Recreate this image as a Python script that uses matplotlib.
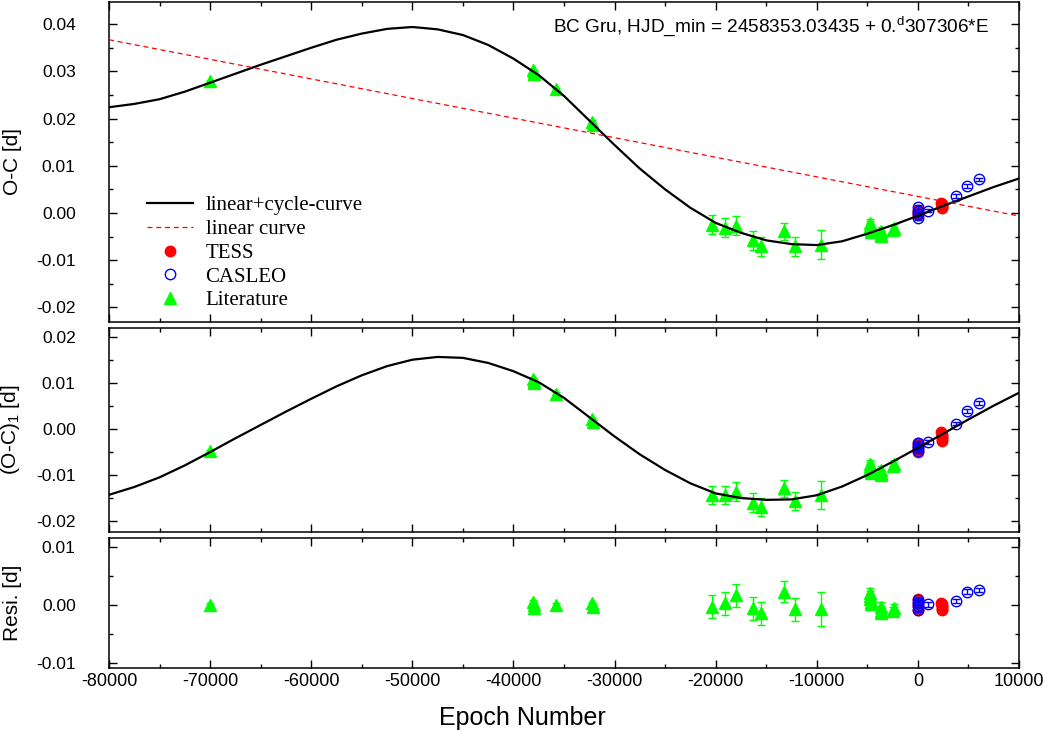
import matplotlib
matplotlib.use('Agg')
import matplotlib.pyplot as plt
from matplotlib.lines import Line2D
from matplotlib.ticker import MultipleLocator, FormatStrFormatter

plt.rcParams['font.family'] = ['Liberation Sans', 'DejaVu Sans']
plt.rcParams['mathtext.fontset'] = 'custom'
plt.rcParams['mathtext.rm'] = 'Liberation Sans'
plt.rcParams['axes.unicode_minus'] = False

# model curves (every 2500 cycles)
curve_epoch = [-80000, -77500, -75000, -72500, -70000, -67500, -65000, -62500, -60000,
               -57500, -55000, -52500, -50000, -47500, -45000, -42500, -40000, -37500,
               -35000, -32500, -30000, -27500, -25000, -22500, -20000, -17500, -15000,
               -12500, -10000, -7500, -5000, -2500, 0, 2500, 5000, 7500, 10000]
# linear + cycle curve (top panel)
curve_oc = [0.0224, 0.0231, 0.0241, 0.0257, 0.0276, 0.0295, 0.0314, 0.0332, 0.0350,
            0.0367, 0.0380, 0.0390, 0.0394, 0.0389, 0.0377, 0.0356, 0.0327, 0.0292,
            0.0248, 0.0196, 0.0144, 0.0094, 0.0050, 0.0011, -0.0021, -0.0042, -0.0058,
            -0.0066, -0.0068, -0.0060, -0.0044, -0.0026, -0.0006, 0.0015, 0.0035,
            0.0055, 0.0073]
# cycle curve alone (middle panel)
curve_oc1 = [-0.0143, -0.0126, -0.0105, -0.0079, -0.0050, -0.0020, 0.0009, 0.0038, 0.0066,
             0.0093, 0.0117, 0.0137, 0.0151, 0.0157, 0.0155, 0.0144, 0.0126, 0.0102,
             0.0068, 0.0026, -0.0016, -0.0055, -0.0089, -0.0118, -0.0140, -0.0150, -0.0154,
             -0.0153, -0.0144, -0.0125, -0.0100, -0.0071, -0.0041, -0.0010, 0.0021,
             0.0051, 0.0079]
# linear ephemeris correction (red dashed)
linear_epoch = [-80000, 10000]
linear_oc = [0.0367, -0.00065]

# Literature minima
lit_epoch = [-70000, -38050, -38000, -37950, -35800, -32250, -32150, -20400, -19080,
             -17990, -16270, -15510, -13200, -12150, -9570, -4780, -4740, -4700, -4660,
             -4620, -3680, -3640, -3600, -2440, -2400]
lit_oc = [0.0279, 0.0303, 0.0298, 0.0294, 0.0262, 0.0193, 0.0186, -0.0025, -0.0031,
          -0.0027, -0.0058, -0.0071, -0.0039, -0.0071, -0.0067, -0.0022, -0.0027, -0.0032,
          -0.0037, -0.0041, -0.0038, -0.0045, -0.0049, -0.0036, -0.0031]
lit_oc1 = [-0.0048, 0.0110, 0.0105, 0.0101, 0.0077, 0.0022, 0.0016, -0.0143, -0.0144,
           -0.0136, -0.0160, -0.0169, -0.0129, -0.0157, -0.0143, -0.0077, -0.0082, -0.0087,
           -0.0092, -0.0096, -0.0088, -0.0095, -0.0099, -0.0081, -0.0076]
lit_res = [0.0000, 0.0006, 0.0000, -0.0006, 0.0000, 0.0003, -0.0003, -0.0003, 0.0003,
           0.0017, -0.0006, -0.0014, 0.0023, -0.0007, -0.0007, 0.0020, 0.0015, 0.0010,
           0.0005, 0.0001, -0.0003, -0.0010, -0.0014, -0.0011, -0.0006]
lit_err = [0.0003, 0.0003, 0.0003, 0.0003, 0.0003, 0.0003, 0.0003, 0.0020, 0.0020,
           0.0020, 0.0020, 0.0020, 0.0018, 0.0020, 0.0030, 0.0010, 0.0010, 0.0010,
           0.0010, 0.0010, 0.0008, 0.0008, 0.0008, 0.0008, 0.0008]

# TESS minima
tess_epoch = [-30, -10, 10, 30, 2330, 2340, 2350, 2360, 2370, 2380]
tess_oc = [0.0007, 0.0003, -0.0001, -0.0005, 0.0021, 0.0019, 0.0017, 0.0015, 0.0013, 0.0011]
tess_oc1 = [-0.0031, -0.0037, -0.0043, -0.0049, -0.0007, -0.0011, -0.0015, -0.0018,
            -0.0022, -0.0025]
tess_res = [0.0011, 0.0004, -0.0002, -0.0009, 0.0004, 0.0001, -0.0002, -0.0004,
            -0.0007, -0.0009]

# CASLEO minima
cas_epoch = [-20, 0, 20, 40, 960, 3760, 4820, 6060]
cas_oc = [0.0012, 0.0005, -0.0002, -0.0010, 0.0005, 0.0036, 0.0057, 0.0071]
cas_oc1 = [-0.0030, -0.0036, -0.0042, -0.0048, -0.0028, 0.0012, 0.0039, 0.0057]
cas_res = [0.0009, 0.0004, -0.0002, -0.0008, 0.0001, 0.0007, 0.0023, 0.0026]
cas_err = [0.0004, 0.0004, 0.0004, 0.0004, 0.0004, 0.0004, 0.0004, 0.0004]

GREEN = '#00ff00'
RED = '#ff0000'
BLUE = '#0000ff'

fig = plt.figure(figsize=(10.48, 7.31), dpi=100)
ax1 = fig.add_axes([0.104, 0.5595, 0.8683, 0.4378])
ax2 = fig.add_axes([0.104, 0.2722, 0.8683, 0.2791])
ax3 = fig.add_axes([0.104, 0.0862, 0.8683, 0.1778])


def plot_points(ax, lit_y, tess_y, cas_y):
    ax.errorbar(lit_epoch, lit_y, yerr=lit_err, fmt='^', color=GREEN, ms=9,
                mec=GREEN, elinewidth=1, capsize=3, capthick=1, zorder=3)
    ax.plot(tess_epoch, tess_y, 'o', color=RED, ms=7.5, mec=RED, zorder=4)
    ax.errorbar(cas_epoch, cas_y, yerr=cas_err, fmt='o', color=BLUE, ms=7.5,
                mfc='none', mec=BLUE, mew=1, elinewidth=1, capsize=3, capthick=1, zorder=5)


plot_points(ax1, lit_oc, tess_oc, cas_oc)
ax1.plot(curve_epoch, curve_oc, color='black', lw=1.6, zorder=6)
ax1.plot(linear_epoch, linear_oc, color=RED, lw=0.9, ls=(0, (4, 3)), zorder=6)

plot_points(ax2, lit_oc1, tess_oc1, cas_oc1)
ax2.plot(curve_epoch, curve_oc1, color='black', lw=1.6, zorder=6)

plot_points(ax3, lit_res, tess_res, cas_res)

ax1.set_ylim(-0.0231, 0.0447)
ax2.set_ylim(-0.0224, 0.0220)
ax3.set_ylim(-0.0109, 0.0116)

for ax in (ax1, ax2, ax3):
    ax.set_xlim(-80000, 10000)
    ax.xaxis.set_major_locator(MultipleLocator(10000))
    ax.xaxis.set_minor_locator(MultipleLocator(5000))
    ax.yaxis.set_major_locator(MultipleLocator(0.01))
    ax.yaxis.set_minor_locator(MultipleLocator(0.005))
    ax.yaxis.set_major_formatter(FormatStrFormatter('%.2f'))
    ax.tick_params(which='both', direction='in', top=True, right=True, width=1)
    ax.tick_params(which='major', length=6, labelsize=12.5)
    ax.tick_params(axis='x', which='major', labelsize=13)
    ax.tick_params(axis='y', which='major', pad=24)
    ax.tick_params(which='minor', length=3)
    for sp in ax.spines.values():
        sp.set_linewidth(1.1)
    ax.yaxis.set_label_coords(-0.0956, 0.5)

ax1.tick_params(labelbottom=False)
ax2.tick_params(labelbottom=False)

ax1.set_ylabel('O-C [d]', fontsize=15)
ax2.set_ylabel(r'(O-C)$_{\mathrm{1}}$ [d]', fontsize=15)
ax3.set_ylabel('Resi. [d]', fontsize=15)
ax3.set_xlabel('Epoch Number', fontsize=18)
ax3.xaxis.set_label_coords(0.454, -0.29)

ax1.text(0.488, 0.922, r'BC Gru, HJD_min = 2458353.03435 + 0.$^{\mathrm{d}}$307306*E',
         transform=ax1.transAxes, fontsize=13.7, va='center', ha='left')

handles = [
    Line2D([], [], color='black', lw=1.6),
    Line2D([], [], color=RED, lw=0.9, ls=(0, (4, 3))),
    Line2D([], [], ls='none', marker='o', color=RED, ms=7.5),
    Line2D([], [], ls='none', marker='o', mfc='none', mec=BLUE, ms=7.5),
    Line2D([], [], ls='none', marker='^', color=GREEN, ms=9),
]
labels = ['linear+cycle-curve', 'linear curve', 'TESS', 'CASLEO', 'Literature']
ax1.legend(handles, labels, loc='upper left', bbox_to_anchor=(0.026, 0.44),
           frameon=False, handlelength=2.2, labelspacing=0.2, handletextpad=0.6,
           borderaxespad=0.3,
           prop={'family': ['Liberation Serif', 'DejaVu Serif'], 'size': 15})

fig.savefig('out.png', dpi=100)
